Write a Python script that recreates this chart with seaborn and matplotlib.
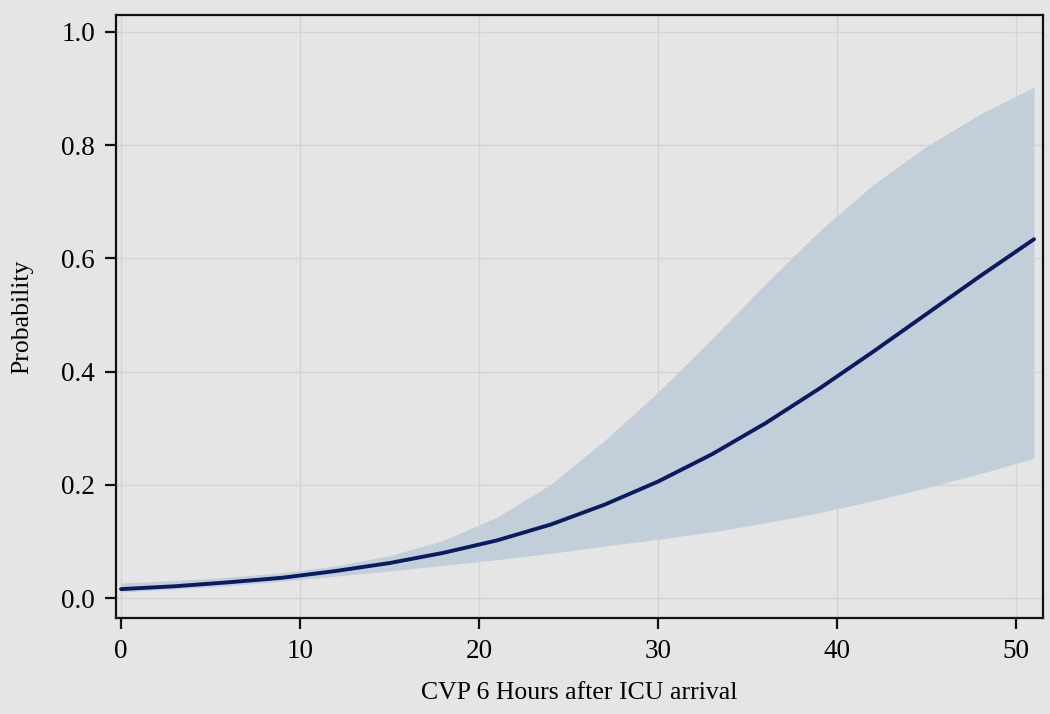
import numpy as np
import pandas as pd
import matplotlib
matplotlib.use("Agg")
import matplotlib.pyplot as plt
import seaborn as sns

# values
cvp = [0, 3, 6, 9, 12, 15, 18, 21, 24, 27, 30, 33, 36, 39, 42, 45, 48, 51]
prob = [0.016, 0.021, 0.028, 0.036, 0.048, 0.062, 0.080, 0.102, 0.130, 0.165,
        0.206, 0.254, 0.309, 0.370, 0.435, 0.502, 0.569, 0.634]
upper = [0.027, 0.031, 0.037, 0.045, 0.057, 0.075, 0.102, 0.143, 0.201, 0.278,
         0.364, 0.458, 0.555, 0.648, 0.730, 0.798, 0.855, 0.903]
lower = [0.011, 0.016, 0.022, 0.030, 0.039, 0.048, 0.058, 0.068, 0.079, 0.092,
         0.104, 0.117, 0.133, 0.151, 0.172, 0.195, 0.220, 0.247]

df = pd.DataFrame({"cvp": cvp, "prob": prob, "upper": upper, "lower": lower})

bg = "#e5e5e5"
sns.set_theme(style="whitegrid", rc={
    "axes.facecolor": bg,
    "figure.facecolor": bg,
    "grid.color": "#d4d4d4",
    "grid.linewidth": 1.0,
    "axes.edgecolor": "#111111",
    "axes.linewidth": 1.6,
    "text.color": "black",
    "axes.labelcolor": "black",
    "xtick.color": "black",
    "ytick.color": "black",
})
plt.rcParams["font.family"] = ["Liberation Serif", "DejaVu Serif"]

fig = plt.figure(figsize=(10.5, 7.14), dpi=100)
ax = fig.add_axes([0.1105, 0.1345, 0.8828, 0.8445])

ax.fill_between(df["cvp"], df["lower"], df["upper"], color="#c3cedb", lw=0, zorder=2)
sns.lineplot(data=df, x="cvp", y="prob", ax=ax, color="#0b1b5e", lw=2.8, zorder=3)

ax.set_xlim(-0.28, 51.5)
ax.set_ylim(-0.035, 1.03)
ax.set_xticks([0, 10, 20, 30, 40, 50])
ax.set_yticks([0.0, 0.2, 0.4, 0.6, 0.8, 1.0])
ax.set_yticklabels(["0.0", "0.2", "0.4", "0.6", "0.8", "1.0"])

ax.tick_params(axis="both", which="major", direction="out", length=8, width=1.6,
               color="#111111", labelsize=19.5, pad=7)
ax.tick_params(axis="x", bottom=True, top=False)
ax.tick_params(axis="y", left=True, right=False)

ax.set_xlabel("CVP 6 Hours after ICU arrival", fontsize=18.5, labelpad=13)
ax.set_ylabel("Probability", fontsize=18.5, labelpad=20)

for side in ["top", "right", "bottom", "left"]:
    ax.spines[side].set_visible(True)

fig.savefig("out.png", dpi=100, facecolor=bg)
